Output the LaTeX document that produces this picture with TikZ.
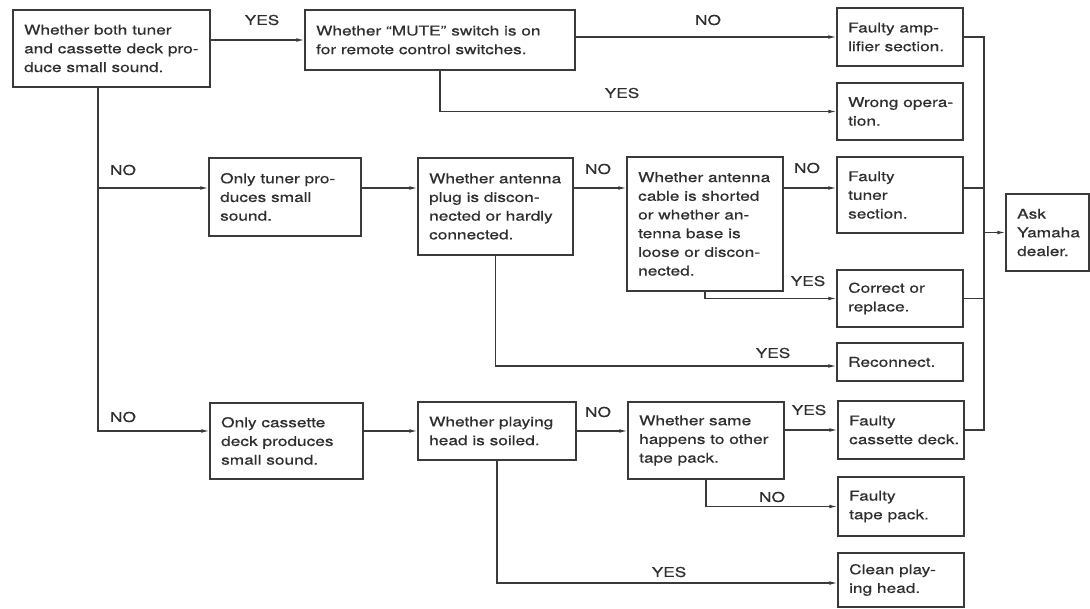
\documentclass[tikz,border=0pt]{standalone}
\usepackage{fontspec}
\newfontfamily\df[FakeStretch=1.28,FakeBold=0.4,Ligatures=TeX]{TeX Gyre Heros}
\usetikzlibrary{arrows.meta,calc}
\definecolor{ink}{HTML}{2E2E2E}
\definecolor{wire}{HTML}{3A3A3A}
\newcommand\bx[6]{%
  \node[box, minimum width={#4pt-#2pt}, minimum height={#5pt-#3pt}] (#1) at ({(#2+#4)/2},{(#3+#5)/2}) {};
  \node[txt, anchor=west] (#1t) at ([xshift=11.5pt]#1.west) {#6};}
\begin{document}
\begin{tikzpicture}[x=1pt,y=-1pt,
  box/.style={draw=wire, line width=1.1pt, rectangle, inner sep=0pt},
  txt/.style={inner sep=0pt, align=left, text=ink, font={\df\fontsize{13.5}{18.7}\selectfont}},
  lbl/.style={inner sep=0pt, text=ink, font={\df\fontsize{13.5}{18.7}\selectfont}},
  conn/.style={draw=wire, line width=1.1pt},
  arr/.style={conn, -{Latex[length=8pt,width=3.6pt]}},
]
\fill[white] (0,0) rectangle (1090,609);
\useasboundingbox (0,0) rectangle (1090,609);

\bx{A}{13}{10}{210}{87}{Whether both tuner\\and cassette deck pro-\\duce small sound.}
\bx{B}{305}{10}{575}{70}{Whether ``MUTE'' switch is on\\for remote control switches.}
\bx{C}{837}{8}{963}{66}{Faulty amp-\\lifier section.}
\bx{D}{837}{83}{963}{140}{Wrong opera-\\tion.}
\bx{E}{209}{158}{361}{236}{Only tuner pro-\\duces small\\sound.}
\bx{F}{418}{158}{573}{255}{Whether antenna\\plug is discon-\\nected or hardly\\connected.}
\bx{G}{627}{157}{783}{291}{Whether antenna\\cable is shorted\\or whether an-\\tenna base is\\loose or discon-\\nected.}
\bx{H}{837}{157}{963}{233}{Faulty\\tuner\\section.}
\bx{I}{837}{270}{963}{327}{Correct or\\replace.}
\bx{J}{837}{343}{963}{381}{Reconnect.}
\bx{Ask}{1006}{194}{1089}{271}{Ask\\Yamaha\\dealer.}
\bx{L}{210}{403}{363}{479}{Only cassette\\deck produces\\small sound.}
\bx{M}{418}{402}{576}{460}{Whether playing\\head is soiled.}
\bx{N}{628}{402}{784}{479}{Whether same\\happens to other\\tape pack.}
\bx{K}{838}{401}{964}{459}{Faulty\\cassette deck.}
\bx{O}{838}{477}{964}{536}{Faulty\\tape pack.}
\bx{P}{838}{553}{964}{607}{Clean play-\\ing head.}

\coordinate (bx) at (984,0);
\coordinate (a1) at (98,0);
\coordinate (r2) at (0,188);
\coordinate (r4) at (0,366);
\coordinate (r7) at (0,583);

\draw[arr] (B.west -| A.east) -- (B.west);
\draw[arr] (C.west -| B.east) -- (C.west);
\draw[arr] (B.south) |- (D.west);
\draw[arr] (a1 |- A.south) |- (E.west |- r2);
\draw[arr] (a1 |- A.south) |- (L.west |- M.west);
\draw[arr] (E.east |- r2) -- (F.west |- r2);
\draw[arr] (F.east |- r2) -- (G.west |- r2);
\draw[arr] (G.east |- r2) -- (H.west |- r2);
\draw[arr] (G.south) |- (I.west);
\draw[arr] (F.south) |- (J.west |- r4);
\draw[arr] (L.east |- M.west) -- (M.west);
\draw[arr] (M.east) -- (N.west |- M.east);
\draw[arr] (N.east |- K.west) -- (K.west);
\draw[arr] (N.south) |- (O.west);
\draw[arr] (M.south) |- (P.west |- r7);
\draw[conn] (C.east) -- (bx |- C.east) -- (bx |- K.east) -- (K.east);
\draw[conn] (H.east |- r2) -- (bx |- r2);
\draw[conn] (I.east) -- (bx |- I.east);
\draw[arr] (bx |- Ask.west) -- (Ask.west);

\node[lbl] (l1) at (262,20) {YES};
\node[lbl] (l2) at (708,20) {NO};
\node[lbl] (l3) at (622,93) {YES};
\node[lbl] (l4) at (123,170) {NO};
\node[lbl] (l5) at (598,169) {NO};
\node[lbl] (l6) at (807,168) {NO};
\node[lbl] (l7) at (808,281) {YES};
\node[lbl] (l8) at (773,353) {YES};
\node[lbl] (l9) at (123,417) {NO};
\node[lbl] (l10) at (598,412) {NO};
\node[lbl] (l11) at (809,410) {YES};
\node[lbl] (l12) at (772,497) {NO};
\node[lbl] (l13) at (669,572) {YES};
\end{tikzpicture}
\end{document}
